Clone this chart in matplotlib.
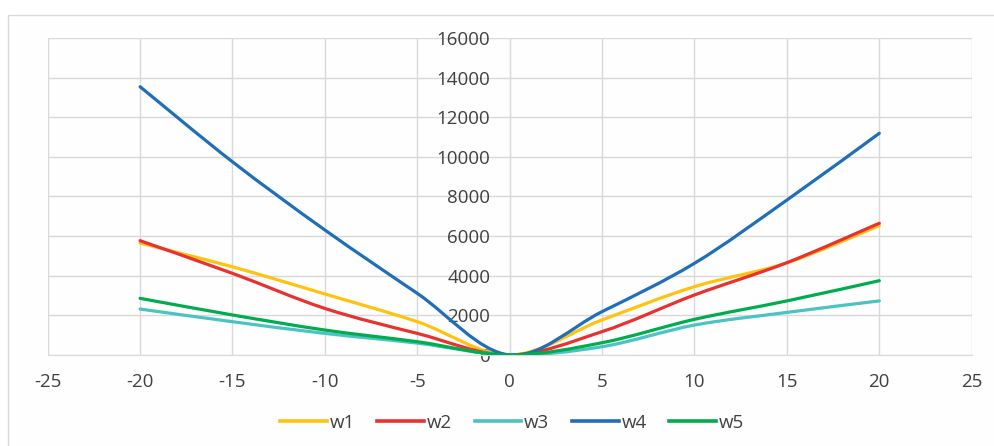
import matplotlib
matplotlib.use("Agg")
import matplotlib.pyplot as plt
from matplotlib.path import Path
from matplotlib.patches import PathPatch, Rectangle
from matplotlib.lines import Line2D

plt.rcParams["axes.unicode_minus"] = False

x_vals = [-20, -15, -10, -5, 0, 5, 10, 15, 20]
w1 = [5650, 4450, 3080, 1680, 0, 1770, 3450, 4650, 6530]
w2 = [5770, 4120, 2350, 1090, 0, 1180, 3030, 4660, 6650]
w3 = [2320, 1680, 1090, 600, 0, 420, 1510, 2150, 2730]
w4 = [13540, 9750, 6310, 3110, 0, 2190, 4630, 7820, 11190]
w5 = [2860, 2020, 1260, 670, 0, 620, 1800, 2730, 3750]
series_names = ["w1", "w2", "w3", "w4", "w5"]
series_vals = [w1, w2, w3, w4, w5]
colors = ["#FFC20E", "#E8322F", "#4CC3C3", "#1F6EB7", "#00AC4E"]
x_ticks = [-25, -20, -15, -10, -5, 0, 5, 10, 15, 20, 25]
y_ticks = [0, 2000, 4000, 6000, 8000, 10000, 12000, 14000, 16000]

FONT = "Open Sans"
TXT = "#404040"
GRID = "#D9D9D9"

fig = plt.figure(figsize=(9.95, 4.46), dpi=100)
fig.patch.set_facecolor("white")
# outer chart frame
frame = Rectangle((8 / 995, -0.05), 1.1, 1 - 15 / 446 + 0.05,
                  transform=fig.transFigure, facecolor="#FEFEFE",
                  edgecolor=GRID, lw=1.0, zorder=-10)
fig.add_artist(frame)

ax = fig.add_axes([47.7 / 995, 1 - 355 / 446, (971.7 - 47.7) / 995, (355 - 38) / 446])
ax.set_zorder(1)
ax.set_facecolor("none")
ax.set_xlim(-25, 25)
ax.set_ylim(0, 16000)
ax.set_xticks(x_ticks)
ax.set_yticks(y_ticks)
ax.grid(True, color=GRID, lw=1.0)
ax.set_axisbelow(True)
for s in ["top", "right"]:
    ax.spines[s].set_visible(False)
ax.spines["left"].set_position(("data", 0))
ax.spines["left"].set_color(GRID)
ax.spines["bottom"].set_color(GRID)
ax.tick_params(axis="both", length=0, colors=TXT, labelsize=13.5)
ax.tick_params(axis="y", pad=14)
ax.tick_params(axis="x", pad=13)
for lab in ax.get_xticklabels() + ax.get_yticklabels():
    lab.set_fontfamily(FONT)


def smooth_path(xs, ys):
    pts = list(zip(xs, ys))
    n = len(pts)
    verts = [pts[0]]
    codes = [Path.MOVETO]
    for i in range(n - 1):
        p0 = pts[i - 1] if i > 0 else pts[i]
        p1 = pts[i]
        p2 = pts[i + 1]
        p3 = pts[i + 2] if i + 2 < n else pts[i + 1]
        c1 = (p1[0] + (p2[0] - p0[0]) / 6, p1[1] + (p2[1] - p0[1]) / 6)
        c2 = (p2[0] - (p3[0] - p1[0]) / 6, p2[1] - (p3[1] - p1[1]) / 6)
        verts += [c1, c2, p2]
        codes += [Path.CURVE4] * 3
    return Path(verts, codes)


handles = []
for name, vals, col in zip(series_names, series_vals, colors):
    patch = PathPatch(smooth_path(x_vals, vals), facecolor="none", edgecolor=col,
                      lw=2.3, capstyle="round", joinstyle="round", zorder=3)
    ax.add_patch(patch)
    handles.append(Line2D([], [], color=col, lw=2.6, label=name))

leg = fig.legend(handles=handles, loc="center", bbox_to_anchor=(512 / 995, 1 - 423 / 446),
                 ncol=5, frameon=False, prop={"family": FONT, "size": 13.5},
                 handlelength=2.5, handletextpad=0.15, columnspacing=1.2)
leg.set_zorder(2)
for t in leg.get_texts():
    t.set_color(TXT)

fig.savefig("out.png", dpi=100)
